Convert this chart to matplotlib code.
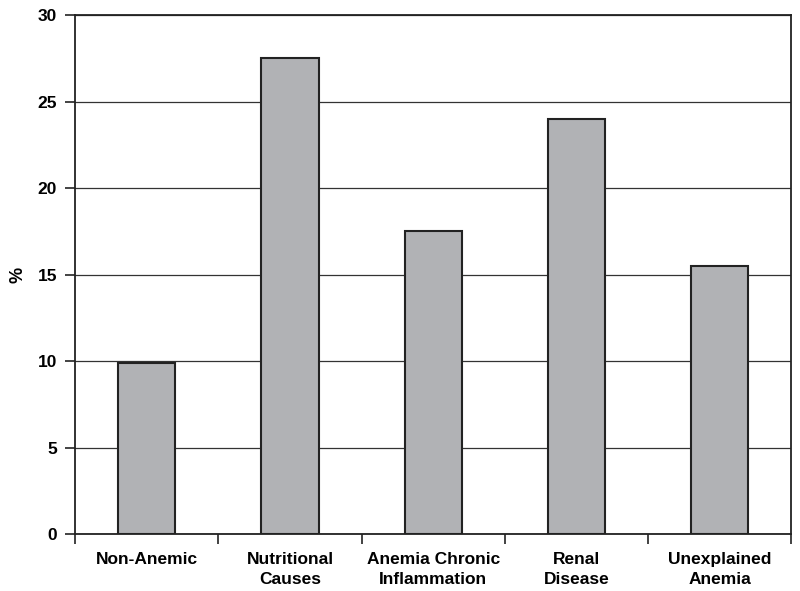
import numpy as np
import matplotlib
matplotlib.use("Agg")
import matplotlib.pyplot as plt

categories = ["Non-Anemic", "Nutritional\nCauses", "Anemia Chronic\nInflammation",
              "Renal\nDisease", "Unexplained\nAnemia"]
values = [9.9, 27.5, 17.5, 24.0, 15.5]
yticks = [0, 5, 10, 15, 20, 25, 30]

plt.rcParams['font.family'] = ['Liberation Sans', 'DejaVu Sans']
plt.rcParams['font.weight'] = 'bold'

fig = plt.figure(figsize=(8, 5.91), dpi=100)
ax = fig.add_axes([0.094, 0.0964, 0.895, 0.8782])

x = np.arange(len(categories))
ax.set_axisbelow(True)
ax.yaxis.grid(True, color="#333333", linewidth=0.9)
ax.bar(x, values, width=0.4, color="#b1b2b5", edgecolor="#222222", linewidth=1.5, zorder=3)

ax.set_xlim(-0.5, len(categories) - 0.5)
ax.set_ylim(0, 30)
ax.set_yticks(yticks)
ax.set_yticklabels([str(t) for t in yticks], fontsize=12.5, fontweight='bold')

# category labels centred between boundary ticks
ax.set_xticks(x)
ax.set_xticklabels(categories, fontsize=12.5, fontweight='bold', linespacing=1.4)
ax.tick_params(axis='x', which='major', length=0, pad=13)
ax.set_xticks(np.arange(len(categories) + 1) - 0.5, minor=True)
ax.tick_params(axis='x', which='minor', length=7, width=1.2, color="#222222", direction='out')
ax.tick_params(axis='y', length=7, width=1.2, color="#222222", direction='out', pad=6)

ax.set_ylabel("%", fontsize=13, fontweight='bold', labelpad=8)

for s in ax.spines.values():
    s.set_linewidth(1.3)
    s.set_color("#222222")

fig.savefig("out.png", dpi=100)
